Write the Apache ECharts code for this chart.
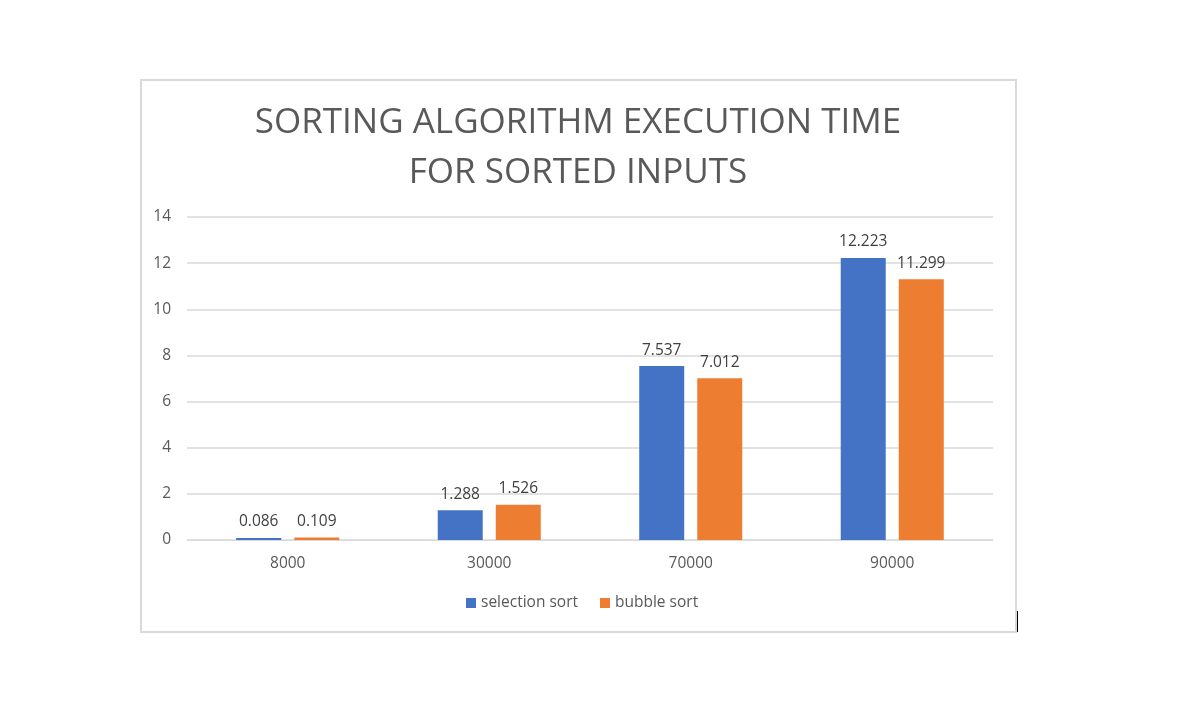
<!DOCTYPE html>
<html><head><meta charset="utf-8">
<script src="https://cdn.jsdelivr.net/npm/echarts@6/dist/echarts.min.js"></script>
<style>html,body{margin:0;padding:0;background:#fff}#c{width:1177px;height:724px}</style>
</head><body><div id="c"></div>
<script>
const categories = ['8000', '30000', '70000', '90000'];
const selectionSort = [0.086, 1.288, 7.537, 12.223];
const bubbleSort = [0.109, 1.526, 7.012, 11.299];
const yTicks = { min: 0, max: 14, interval: 2 };

const chart = echarts.init(document.getElementById('c'), null, { renderer: 'canvas' });
const font = 'Open Sans, Noto Sans, sans-serif';
const labelCfg = { show: true, position: 'top', distance: 8, color: '#404040', fontSize: 15.5, fontFamily: font,
  formatter: p => p.value.toFixed(3) };
chart.setOption({
  animation: false,
  title: {
    text: 'SORTING ALGORITHM EXECUTION TIME\nFOR SORTED INPUTS',
    left: 573, textAlign: 'center', top: 93,
    textStyle: { color: '#595959', fontSize: 35, fontWeight: 'normal', fontFamily: font, lineHeight: 50 }
  },
  graphic: [
    { type: 'rect', shape: { x: 141, y: 80, width: 875, height: 552 }, style: { fill: 'none', stroke: '#d9d9d9', lineWidth: 2 }, silent: true },
    { type: 'line', shape: { x1: 1017.5, y1: 611, x2: 1017.5, y2: 632 }, style: { stroke: '#000', lineWidth: 1 }, silent: true }
  ],
  legend: {
    bottom: 108, left: 461, itemWidth: 10, itemHeight: 10, itemGap: 22,
    icon: 'rect',
    textStyle: { color: '#595959', fontSize: 15.5, fontFamily: font },
    data: ['selection sort', 'bubble sort']
  },
  grid: { left: 187, right: 184, top: 217, bottom: 184 },
  xAxis: {
    type: 'category', data: categories,
    axisLine: { lineStyle: { color: '#d9d9d9', width: 1 } },
    axisTick: { show: false },
    axisLabel: { color: '#595959', fontSize: 15.5, fontFamily: font, margin: 16 }
  },
  yAxis: {
    type: 'value', min: yTicks.min, max: yTicks.max, interval: yTicks.interval,
    axisLine: { show: false }, axisTick: { show: false },
    axisLabel: { color: '#595959', fontSize: 15.5, fontFamily: font, margin: 16 },
    splitLine: { lineStyle: { color: '#d9d9d9', width: 1.5 } }
  },
  series: [
    { name: 'selection sort', type: 'bar', data: selectionSort, barWidth: 45, barGap: '29%',
      itemStyle: { color: '#4472C4' }, label: labelCfg },
    { name: 'bubble sort', type: 'bar', data: bubbleSort, barWidth: 45,
      itemStyle: { color: '#ED7D31' }, label: labelCfg }
  ]
});
</script></body></html>
